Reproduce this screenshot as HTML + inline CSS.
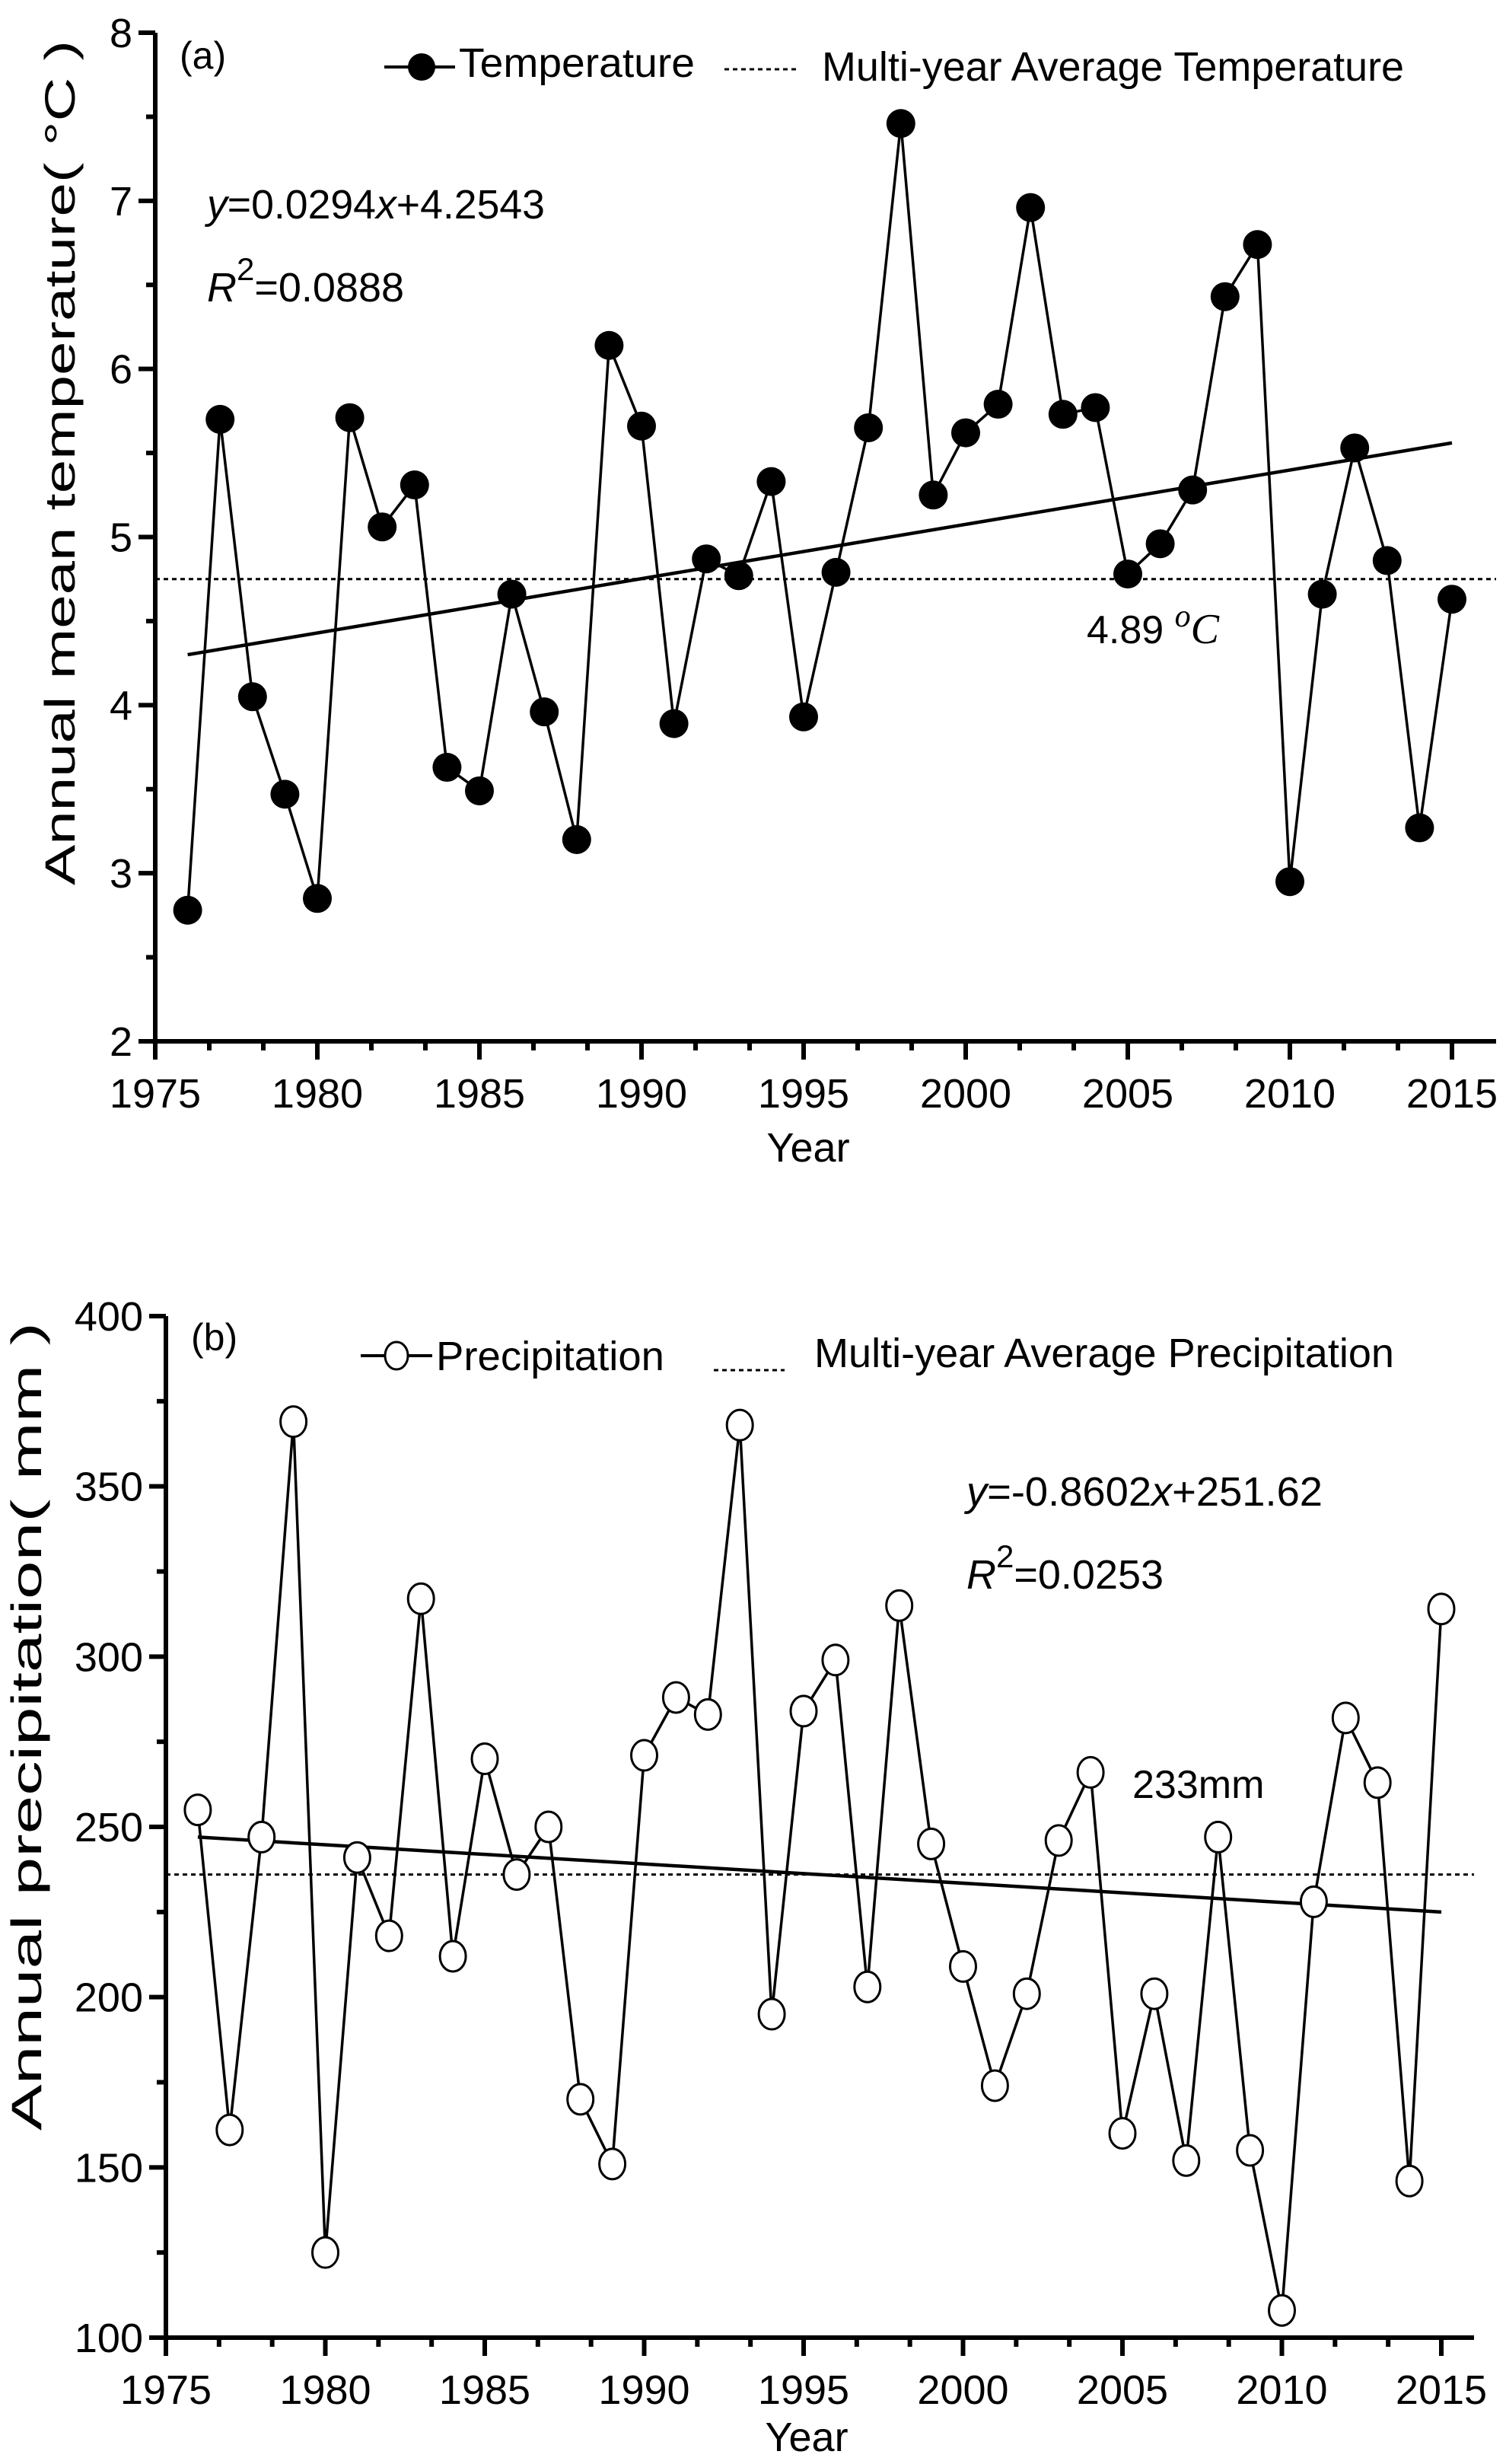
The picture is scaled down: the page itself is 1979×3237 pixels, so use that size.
<!DOCTYPE html>
<html><head><meta charset="utf-8"><style>
html,body{margin:0;padding:0;background:#fff;}
svg{display:block;}
text{font-family:"Liberation Sans",sans-serif;fill:#000;}
</style></head><body>
<svg id="svg" width="1979" height="3237" viewBox="0 0 1979 3237" xmlns="http://www.w3.org/2000/svg">
<g id="ga"></g>
<g id="gb"></g>
</svg>
<script>
const years = [];
for (let y = 1976; y <= 2015; y++) years.push(y);
const tempValues = [2.78,5.70,4.05,3.47,2.85,5.71,5.06,5.31,3.63,3.49,4.66,3.96,3.20,6.14,5.66,3.89,4.87,4.77,5.33,3.93,4.79,5.65,7.46,5.25,5.62,5.79,6.96,5.73,5.77,4.78,4.96,5.28,6.43,6.74,2.95,4.66,5.53,4.86,3.27,4.63];
const tempAvg = [4.75];
const tempTrend = [4.30,5.56];
const tempTicks = [2,3,4,5,6,7,8];
const precValues = [255,161,247,369,125,241,218,317,212,270,236,250,170,151,271,288,283,368,195,284,299,203,315,245,209,174,201,246,266,160,201,152,247,155,108,228,282,263,146,314];
const precAvg = [236];
const precTrend = [247,225];
const precTicks = [100,150,200,250,300,350,400];
const xTicks = [1975,1980,1985,1990,1995,2000,2005,2010,2015];

const NS = "http://www.w3.org/2000/svg";
function mk(parent, tag, attrs, txt) {
  const e = document.createElementNS(NS, tag);
  for (const k in attrs) e.setAttribute(k, attrs[k]);
  if (txt !== undefined) e.textContent = txt;
  parent.appendChild(e);
  return e;
}

function drawChart(g, cfg) {
  const X = yr => cfg.x0 + (yr - 1975) * cfg.xs;
  const Y = v => cfg.yb - (v - cfg.ymin) / (cfg.ymax - cfg.ymin) * (cfg.yb - cfg.yt);
  let e = mk(g, 'line', {x1: cfg.x0, y1: cfg.yt, x2: cfg.x0, y2: cfg.yb, stroke: '#000', 'stroke-width': 6});
  
  
  e = mk(g, 'line', {x1: cfg.x0 - 20, y1: cfg.yb, x2: cfg.xr, y2: cfg.yb, stroke: '#000', 'stroke-width': 6});
  
  
  cfg.yticks.forEach((t, i) => {
    const y = Y(t);
    mk(g, 'line', {x1: cfg.x0 - 22, y1: y, x2: cfg.x0, y2: y, stroke: '#000', 'stroke-width': 6});
    e = mk(g, 'text', {x: cfg.x0 - 30, y: y + 19, 'font-size': 54, 'text-anchor': 'end'}, String(t));
    
    
    if (i < cfg.yticks.length - 1) {
      const ym = Y((t + cfg.yticks[i + 1]) / 2);
      mk(g, 'line', {x1: cfg.x0 - 12, y1: ym, x2: cfg.x0, y2: ym, stroke: '#000', 'stroke-width': 6});
    }
  });
  xTicks.forEach((t, i) => {
    const x = X(t);
    mk(g, 'line', {x1: x, y1: cfg.yb, x2: x, y2: cfg.yb + 24, stroke: '#000', 'stroke-width': 6});
    e = mk(g, 'text', {x: x, y: cfg.xlabY, 'font-size': 54, 'text-anchor': 'middle'}, String(t));
    
    
    if (i < xTicks.length - 1) {
      for (let k = 1; k <= 2; k++) {
        const xm = X(t + 5 * k / 3);
        mk(g, 'line', {x1: xm, y1: cfg.yb, x2: xm, y2: cfg.yb + 12, stroke: '#000', 'stroke-width': 6});
      }
    }
  });
  e = mk(g, 'line', {x1: cfg.x0, y1: Y(cfg.avg[0]), x2: cfg.xr, y2: Y(cfg.avg[0]), stroke: '#000', 'stroke-width': 3, 'stroke-dasharray': '6,5'});
  
  
  e = mk(g, 'line', {x1: X(1976), y1: Y(cfg.trend[0]), x2: X(2015), y2: Y(cfg.trend[1]), stroke: '#000', 'stroke-width': 4.5});
  
  
  const pts = cfg.values.map((v, i) => X(years[i]) + ',' + Y(v)).join(' ');
  e = mk(g, 'polyline', {points: pts, fill: 'none', stroke: '#000', 'stroke-width': 3.5});
  
  
  cfg.values.forEach((v, i) => {
    let m;
    if (cfg.filled) m = mk(g, 'circle', {cx: X(years[i]), cy: Y(v), r: 19, fill: '#000'});
    else m = mk(g, 'ellipse', {cx: X(years[i]), cy: Y(v), rx: 17, ry: 20, fill: '#fff', stroke: '#000', 'stroke-width': 3});
    
    
  });
}

drawChart(document.getElementById('ga'), {x0: 204, xs: 42.6, xr: 1966, yt: 43, yb: 1368, ymin: 2, ymax: 8,
  yticks: tempTicks, values: tempValues, avg: tempAvg, trend: tempTrend, filled: true, xlabY: 1455});
drawChart(document.getElementById('gb'), {x0: 218, xs: 41.9, xr: 1937, yt: 1729, yb: 3071, ymin: 100, ymax: 400,
  yticks: precTicks, values: precValues, avg: precAvg, trend: precTrend, filled: false, xlabY: 3158});
</script>
<svg style="position:absolute;left:0;top:0" width="1979" height="3237">
  <text x="236" y="90" font-size="50">(a)</text>
  <line x1="505" y1="88" x2="598" y2="88" stroke="#000" stroke-width="4"/>
  <circle cx="554" cy="88" r="18" fill="#000"/>
  <text x="603" y="101" font-size="54" textLength="310" lengthAdjust="spacingAndGlyphs">Temperature</text>
  <line x1="952" y1="91" x2="1051" y2="91" stroke="#000" stroke-width="3" stroke-dasharray="6,5"/>
  <text x="1080" y="106" font-size="54" textLength="765" lengthAdjust="spacingAndGlyphs">Multi-year Average Temperature</text>
  <text x="272" y="287" font-size="54" textLength="444" lengthAdjust="spacingAndGlyphs"><tspan font-style="italic">y</tspan>=0.0294<tspan font-style="italic">x</tspan>+4.2543</text>
  <text x="272" y="396" font-size="54"><tspan font-style="italic">R</tspan><tspan dy="-28" font-size="42">2</tspan><tspan dy="28">=0.0888</tspan></text>
  <text x="1428" y="845" font-size="52">4.89 <tspan dy="-22" font-family="Liberation Serif" font-style="italic" font-size="42">o</tspan><tspan dy="22" font-family="Liberation Serif" font-style="italic" font-size="56">C</tspan></text>
  <text x="1062" y="1526" font-size="54" text-anchor="middle">Year</text>
  <text transform="translate(98,608) rotate(-90)" font-size="56" text-anchor="middle" textLength="1110" lengthAdjust="spacingAndGlyphs">Annual mean temperature( °C )</text>

  <text x="251" y="1774" font-size="50">(b)</text>
  <line x1="474" y1="1781" x2="568" y2="1781" stroke="#000" stroke-width="4"/>
  <ellipse cx="521" cy="1781" rx="15" ry="18" fill="#fff" stroke="#000" stroke-width="3"/>
  <text x="573" y="1800" font-size="54" textLength="300" lengthAdjust="spacingAndGlyphs">Precipitation</text>
  <line x1="938" y1="1800" x2="1031" y2="1800" stroke="#000" stroke-width="3" stroke-dasharray="6,5"/>
  <text x="1070" y="1796" font-size="54" textLength="762" lengthAdjust="spacingAndGlyphs">Multi-year Average Precipitation</text>
  <text x="1270" y="1978" font-size="54" textLength="468" lengthAdjust="spacingAndGlyphs"><tspan font-style="italic">y</tspan>=-0.8602<tspan font-style="italic">x</tspan>+251.62</text>
  <text x="1270" y="2087" font-size="54"><tspan font-style="italic">R</tspan><tspan dy="-28" font-size="42">2</tspan><tspan dy="28">=0.0253</tspan></text>
  <text x="1488" y="2362" font-size="52">233mm</text>
  <text x="1060" y="3220" font-size="54" text-anchor="middle">Year</text>
  <text transform="translate(54,2268) rotate(-90)" font-size="56" text-anchor="middle" textLength="1062" lengthAdjust="spacingAndGlyphs">Annual precipitation( mm )</text>
</svg>
</body></html>
